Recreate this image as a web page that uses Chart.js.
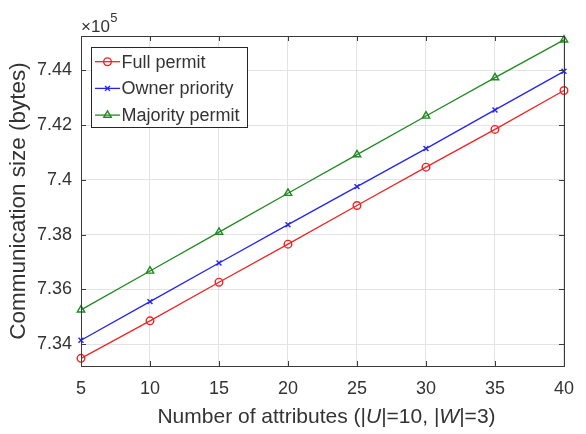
<!DOCTYPE html>
<html>
<head>
<meta charset="utf-8">
<script src="https://cdn.jsdelivr.net/npm/chart.js@4/dist/chart.umd.min.js"></script>
<style>
  html, body { margin: 0; padding: 0; background: #ffffff; }
  #wrap { width: 586px; height: 434px; }
</style>
</head>
<body>
<div id="wrap"><canvas id="c" width="586" height="434"></canvas></div>
<script>
// ---- data (values in units of 10^5 bytes) ----
const attributes = ['5', '10', '15', '20', '25', '30', '35', '40'];
const fullPermit = [7.3348, 7.3485, 7.3626, 7.3765, 7.3906, 7.4046, 7.4184, 7.4326];
const ownerPriority = [7.3414, 7.3555, 7.3696, 7.3836, 7.3975, 7.4114, 7.4255, 7.4396];
const majorityPermit = [7.3525, 7.3667, 7.3809, 7.3951, 7.4092, 7.4233, 7.4373, 7.4511];
const seriesNames = ['Full permit', 'Owner priority', 'Majority permit'];
const yTickValues = [7.34, 7.36, 7.38, 7.40, 7.42, 7.44];
const yTickLabels = ['7.34', '7.36', '7.38', '7.4', '7.42', '7.44'];
const yMin = 7.332, yMax = 7.4525;

const FONT = "'Liberation Sans', Arial, Helvetica, sans-serif";
const TXT = '#333333';

function ds(label, data, color, style, radius) {
  return {
    label, data,
    borderColor: color,
    backgroundColor: 'rgba(255,255,255,0)',
    borderWidth: 1.3,
    pointStyle: style,
    pointRadius: radius,
    pointBorderWidth: 1.4,
    pointBackgroundColor: 'rgba(255,255,255,0)',
    pointBorderColor: color,
    tension: 0,
    clip: false
  };
}

const decor = {
  id: 'decor',
  afterDatasetsDraw(chart) {
    const ctx = chart.ctx;
    const a = chart.chartArea;
    const xs = chart.scales.x, ys = chart.scales.y;
    ctx.save();
    // axes box
    ctx.strokeStyle = '#3a3a3a';
    ctx.lineWidth = 1;
    ctx.strokeRect(Math.round(a.left) + 0.5, Math.round(a.top) + 0.5,
                   Math.round(a.right - a.left), Math.round(a.bottom - a.top));
    // inward tick marks
    const tl = 5;
    ctx.beginPath();
    xs.ticks.forEach((t, i) => {
      const px = Math.round(xs.getPixelForTick(i)) + 0.5;
      ctx.moveTo(px, a.bottom); ctx.lineTo(px, a.bottom - tl);
      ctx.moveTo(px, a.top); ctx.lineTo(px, a.top + tl);
    });
    ys.ticks.forEach((t) => {
      const py = Math.round(ys.getPixelForValue(t.value)) + 0.5;
      ctx.moveTo(a.left, py); ctx.lineTo(a.left + tl, py);
      ctx.moveTo(a.right, py); ctx.lineTo(a.right - tl, py);
    });
    ctx.stroke();

    // exponent label
    ctx.fillStyle = TXT;
    ctx.textBaseline = 'middle';
    ctx.textAlign = 'left';
    ctx.font = '17px ' + FONT;
    ctx.fillText('\u00d710', 81, 27);
    const w = ctx.measureText('\u00d710').width;
    ctx.font = '13px ' + FONT;
    ctx.fillText('5', 81 + w + 0.5, 18);

    // x axis title with italic U and W
    const segs = [
      ['Number of attributes (|', false], ['U', true], ['|=10, |', false], ['W', true], ['|=3)', false]
    ];
    let total = 0;
    segs.forEach(s => { ctx.font = (s[1] ? 'italic ' : '') + '21px ' + FONT; total += ctx.measureText(s[0]).width; });
    let x = (a.left + a.right) / 2 - total / 2 + 4;
    segs.forEach(s => {
      ctx.font = (s[1] ? 'italic ' : '') + '21px ' + FONT;
      ctx.fillText(s[0], x, 417);
      x += ctx.measureText(s[0]).width;
    });

    // legend box
    const bx = 91, by = 47, bw = 156, bh = 80;
    ctx.fillStyle = '#ffffff';
    ctx.fillRect(bx, by, bw, bh);
    ctx.strokeStyle = '#262626';
    ctx.lineWidth = 1;
    ctx.strokeRect(bx + 0.5, by + 0.5, bw, bh);
    chart.data.datasets.forEach((d, i) => {
      const ly = 61.7 + i * 26.7;
      ctx.strokeStyle = d.borderColor;
      ctx.lineWidth = d.borderWidth;
      ctx.beginPath();
      ctx.moveTo(95, ly); ctx.lineTo(120, ly);
      ctx.stroke();
      ctx.fillStyle = 'rgba(255,255,255,0)';
      ctx.lineWidth = d.pointBorderWidth;
      Chart.helpers.drawPoint(ctx, { pointStyle: d.pointStyle, radius: d.pointRadius, borderWidth: d.pointBorderWidth, rotation: 0 }, 107.5, ly);
      ctx.fillStyle = TXT;
      ctx.font = '18px ' + FONT;
      ctx.textBaseline = 'middle';
      ctx.fillText(d.label, 121.5, ly + 1);
    });
    ctx.restore();
  }
};

new Chart(document.getElementById('c'), {
  type: 'line',
  data: {
    labels: attributes,
    datasets: [
      ds(seriesNames[0], fullPermit, '#f02424', 'circle', 3.8),
      ds(seriesNames[1], ownerPriority, '#2424f0', 'crossRot', 3.5),
      ds(seriesNames[2], majorityPermit, '#1f8a1f', 'triangle', 4.3)
    ]
  },
  options: {
    responsive: false,
    animation: false,
    devicePixelRatio: 1,
    layout: { padding: { top: 36, right: 11, left: 0, bottom: 0 } },
    plugins: { legend: { display: false }, tooltip: { enabled: false } },
    scales: {
      x: {
        type: 'category',
        offset: false,
        grid: { color: '#e3e3e3', lineWidth: 1, drawTicks: false },
        border: { display: false },
        ticks: { color: TXT, font: { family: FONT, size: 18 }, padding: 12, maxRotation: 0, autoSkip: false },
        afterFit(s) { s.height = 68; }
      },
      y: {
        type: 'linear',
        min: yMin, max: yMax,
        grid: { color: '#e3e3e3', lineWidth: 1, drawTicks: false },
        border: { display: false },
        afterBuildTicks(s) { s.ticks = yTickValues.map(v => ({ value: v })); },
        ticks: {
          color: TXT, font: { family: FONT, size: 18 }, padding: 9,
          callback(v) { const i = yTickValues.findIndex(t => Math.abs(t - v) < 1e-9); return i >= 0 ? yTickLabels[i] : ''; }
        },
        title: { display: true, text: 'Communication size (bytes)', color: TXT,
                 font: { family: FONT, size: 22.5 }, padding: { top: 5.5, bottom: 0 } },
        afterFit(s) { s.width = 81; }
      }
    }
  },
  plugins: [decor]
});
</script>
</body>
</html>
